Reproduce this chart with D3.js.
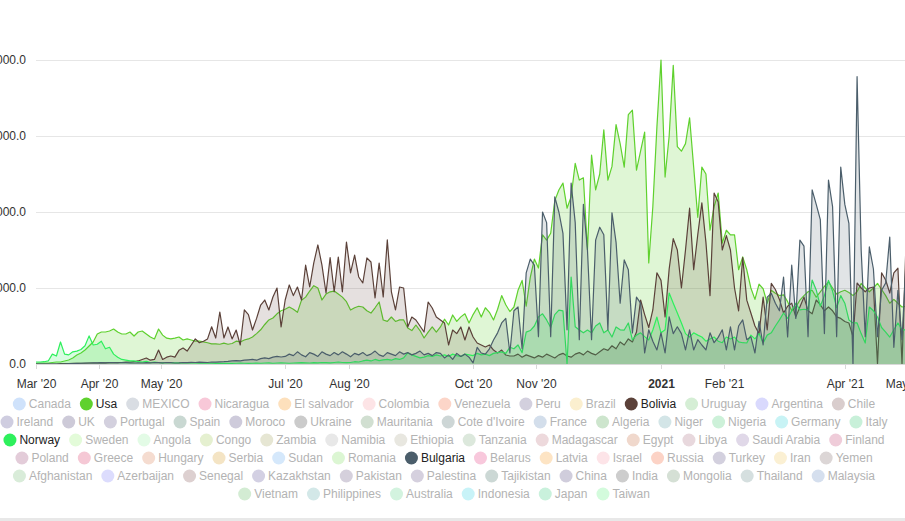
<!DOCTYPE html>
<html><head><meta charset="utf-8">
<script src="https://cdn.jsdelivr.net/npm/d3@7"></script>
<style>
html,body{margin:0;padding:0;background:#fff;overflow:hidden;}
svg{display:block;font-family:"Liberation Sans",Arial,sans-serif;}
</style></head><body>
<svg id="chart" width="905" height="521"></svg>
<script>
// ---------- data ----------
const startDate = "2020-03-01";
const stepDays = 2;

const usa = [
10,13,13,13,20,26,26,39,53,79,
118,145,184,237,290,395,421,421,434,460,
420,395,395,421,368,421,434,395,355,330,
460,380,340,330,340,355,316,330,316,300,
300,290,280,265,265,260,275,260,270,300,
290,316,330,355,400,450,520,580,605,660,
700,720,750,720,680,840,880,960,1030,1000,
842,920,950,960,920,880,820,710,740,760,
750,700,670,740,816,579,560,618,560,580,
580,474,440,513,440,342,420,487,420,487,
590,513,645,560,620,660,540,650,740,618,
740,680,580,720,900,780,690,750,970,1100,
760,1140,1380,1263,1700,1630,1720,2150,2290,2380,
2050,2200,2640,2420,2450,1500,2750,2290,2500,3080,
2420,2600,3150,2900,2590,3280,3340,2550,2800,3050,
1330,2070,3120,4000,2460,3000,3930,2860,2800,2900,
3240,2590,1930,2590,2500,1760,2070,2250,1590,1760,
1700,1700,1240,1410,1240,1000,850,1050,990,800,
970,930,900,910,820,700,750,840,900,950,
970,880,950,1020,1080,1000,920,950,970,940,
900,950,1060,1000,950,1000,1060,980,900,800,
850,800,750,760];

const bolivia = [
0,0,0,0,0,0,5,5,5,8,
8,10,10,13,13,13,15,15,18,18,
20,20,26,26,30,40,60,79,50,60,
184,60,90,105,90,180,210,170,250,330,
280,300,330,490,342,684,342,487,330,447,
250,711,650,447,600,776,842,711,882,1000,
487,842,1040,900,1013,842,1300,1013,1330,1566,
1300,934,1400,950,1408,950,1605,1200,1434,1145,
1066,1395,1342,869,1329,882,1632,950,711,1013,
1000,487,618,579,500,421,816,737,618,579,
540,250,447,400,487,316,487,355,276,250,
224,250,184,145,184,118,105,105,130,90,
120,100,80,110,90,130,105,80,120,140,
105,90,130,150,120,170,140,120,160,200,
180,240,200,290,250,330,290,420,842,650,
480,711,1200,1100,620,1250,1650,1500,1000,1500,
2050,1240,1700,2120,1600,900,2250,2130,1500,1690,
1500,1000,700,1400,840,671,500,400,880,450,
1060,980,850,671,760,800,620,750,880,700,
660,842,780,700,750,700,620,600,560,540,
360,1066,1000,950,1000,1013,0,1200,1105,934,
1200,1260,0,1630];

const norway = [
26,26,30,40,130,105,290,130,120,160,
170,190,240,370,250,260,300,200,220,130,
90,60,50,40,40,30,25,35,20,25,
20,15,20,18,15,15,13,15,13,13,
10,10,13,10,8,10,8,10,8,10,
13,10,8,10,13,10,13,15,10,13,
15,13,10,13,15,18,15,13,18,15,
20,18,15,20,26,20,18,20,30,26,
40,50,40,60,45,55,60,50,70,60,
80,145,120,100,80,90,110,100,120,105,
120,100,130,110,100,130,120,110,140,120,
130,110,140,150,160,140,220,200,250,150,
420,440,500,620,660,580,480,650,710,700,
0,1145,490,447,410,447,410,500,540,410,
447,355,487,450,447,540,316,380,410,360,
316,447,618,410,450,934,800,671,540,400,
355,410,380,355,300,330,355,300,280,355,
330,355,290,280,276,380,330,400,276,380,
410,500,580,671,600,700,800,711,720,711,
1105,974,760,900,1100,960,740,900,800,580,
540,540,400,276,750,700,618,480,420,355,
450,540,450,450];

const bulgaria = [
0,0,0,0,0,0,0,0,5,5,
8,10,13,13,15,15,18,15,20,18,
15,20,18,15,13,15,13,18,15,20,
18,15,20,18,13,15,20,18,22,20,
25,22,20,26,24,28,30,34,40,45,
40,50,55,60,50,70,80,70,90,100,
92,100,130,110,160,120,95,150,130,100,
160,130,110,150,120,160,130,95,140,120,
150,110,130,170,120,100,150,130,110,160,
130,150,120,140,170,120,140,110,150,140,
80,120,60,140,100,130,90,15,220,145,
130,200,316,410,540,600,145,700,750,200,
1200,1380,1300,360,2000,1860,360,2200,2000,1720,
450,2380,1860,320,2100,1500,320,1630,1800,1700,
450,1990,1600,800,1370,1240,410,880,800,145,
450,300,185,410,145,620,400,490,400,185,
450,185,320,250,185,410,280,350,450,185,
490,185,500,580,320,360,145,560,250,880,
930,800,700,1145,355,1300,600,1630,1550,360,
2290,2100,1900,400,2420,2070,360,2590,2100,1850,
0,3780,1500,360,1540,1250,360,970,1066,1670,
220,970,320,1370];

const yTicks = [0, 1000, 2000, 3000, 4000];
const xTickDates = ["2020-03-01","2020-04-01","2020-05-01","2020-07-01","2020-08-01","2020-10-01","2020-11-01","2021-01-01","2021-02-01","2021-04-01","2021-05-01"];
const xTickLabels = ["Mar '20","Apr '20","May '20","Jul '20","Aug '20","Oct '20","Nov '20","2021","Feb '21","Apr '21","May '21"];

const legendNames = ["Canada","Usa","MEXICO","Nicaragua","El salvador","Colombia","Venezuela","Peru","Brazil","Bolivia","Uruguay","Argentina","Chile",
"Ireland","UK","Portugal","Spain","Moroco","Ukraine","Mauritania","Cote d'Ivoire","France","Algeria","Niger","Nigeria","Germany","Italy",
"Norway","Sweden","Angola","Congo","Zambia","Namibia","Ethiopia","Tanzania","Madagascar","Egypt","Libya","Saudi Arabia","Finland",
"Poland","Greece","Hungary","Serbia","Sudan","Romania","Bulgaria","Belarus","Latvia","Israel","Russia","Turkey","Iran","Yemen",
"Afghanistan","Azerbaijan","Senegal","Kazakhstan","Pakistan","Palestina","Tajikistan","China","India","Mongolia","Thailand","Malaysia",
"Vietnam","Philippines","Australia","Indonesia","Japan","Taiwan"];
const legendColors = ["#cfe2fb","#5fd12e","#d9dde3","#f8c8d8","#fde0bc","#fde4e6","#fcd5c8","#d3d0de","#fbefcf","#5b4139","#d5eed5","#d9d9fd","#d9cdcd",
"#cfcde0","#cdcad8","#d3d0de","#c9d8d2","#cecbdb","#cbcbcb","#d1dfd1","#cdd6d6","#d3deeb","#cde5cd","#d3e5e7","#cdf1d9","#c8f3f5","#c8f0d9",
"#2ef05c","#e3fbd9","#e3fbe6","#e5f0d0","#e6e6d3","#e8e8e8","#e8e7e0","#dce8dc","#edd9dc","#f0d8cc","#e8d8dd","#e0d8e8","#efccd9",
"#e3ccd9","#f5c8d5","#f5dcd0","#f4e4c4","#d5e8fb","#dcf6d3","#4b5e6b","#f8c8dc","#fde4c4","#fde4e8","#fcd3c6","#d3d0de","#fbf0d3","#dcd6d6",
"#d9ecd9","#dcdcfd","#ddd0d0","#d3d0e3","#d5d0dc","#d5d0de","#ccd8d5","#d0cddc","#cdcdcd","#d5e0d5","#d5dfdf","#d5dfee",
"#d3ecd3","#d3e8e8","#d3f3df","#c8f3f8","#c9f1dc","#d3fbdc"];
const legendRowSizes = [13, 14, 13, 14, 12, 6];

const seriesList = [
  {name:"Usa", color:"#5fd12e", fillOpacity:0.2, values:usa},
  {name:"Bolivia", color:"#5b4139", fillOpacity:0.16, values:bolivia},
  {name:"Norway", color:"#2ef05c", fillOpacity:0.18, values:norway},
  {name:"Bulgaria", color:"#4b5e6b", fillOpacity:0.17, values:bulgaria}
];

// ---------- chart ----------
const svg = d3.select("#chart");
const W = 905, H = 521;
const parse = d3.timeParse("%Y-%m-%d");
const t0 = parse(startDate);

const x = d3.scaleTime()
  .domain([parse("2020-03-01"), parse("2021-01-01")])
  .range([36, 661]);
const y = d3.scaleLinear().domain([0, 4000]).range([364, 60]);

// grid
svg.append("g").selectAll("line").data(yTicks.filter(d => d > 0)).join("line")
  .attr("x1", 36).attr("x2", W + 10)
  .attr("y1", d => y(d) + 0.5).attr("y2", d => y(d) + 0.5)
  .attr("stroke", "#e6e6e6").attr("stroke-width", 1);

// y labels (left part falls outside the frame, as in the reference)
svg.append("g").selectAll("text").data(yTicks).join("text")
  .attr("x", 26).attr("y", d => y(d))
  .attr("text-anchor", "end").attr("dominant-baseline", "central")
  .attr("font-size", 12).attr("fill", "#333")
  .text(d => d3.format(".1f")(d));

// series
const plot = svg.append("g");
seriesList.forEach(s => {
  const pts = s.values.map((v, i) => ({d: d3.timeDay.offset(t0, i * stepDays), v}));
  const area = d3.area().x(p => x(p.d)).y0(y(0)).y1(p => y(p.v));
  const line = d3.line().x(p => x(p.d)).y(p => y(p.v));
  plot.append("path").datum(pts).attr("d", area)
    .attr("fill", s.color).attr("fill-opacity", s.fillOpacity);
  plot.append("path").datum(pts).attr("d", line)
    .attr("fill", "none").attr("stroke", s.color).attr("stroke-width", 1.2)
    .attr("stroke-linejoin", "round");
});

// x axis
svg.append("line").attr("x1", 36).attr("x2", W + 10)
  .attr("y1", 364.5).attr("y2", 364.5).attr("stroke", "#d8d8d8");
const xg = svg.append("g");
xTickDates.forEach((ds, i) => {
  const px = Math.round(x(parse(ds))) + 0.5;
  xg.append("line").attr("x1", px).attr("x2", px).attr("y1", 364).attr("y2", 369)
    .attr("stroke", "#d8d8d8");
  xg.append("text").attr("x", px).attr("y", 384)
    .attr("text-anchor", "middle").attr("dominant-baseline", "central")
    .attr("font-size", 12).attr("fill", "#333")
    .attr("font-weight", xTickLabels[i] === "2021" ? "bold" : "normal")
    .text(xTickLabels[i]);
});

// legend
const activeNames = seriesList.map(s => s.name);
const tmp = svg.append("text").attr("font-size", 12);
const items = legendNames.map((n, i) => {
  tmp.text(n);
  const tw = tmp.node().getComputedTextLength();
  return {name: n, color: legendColors[i], w: 16 + tw};
});
tmp.remove();
const gap = 9, centerX = 444, row0 = 404, rowH = 18;
const lg = svg.append("g");
let k = 0;
legendRowSizes.forEach((n, ri) => {
  const rowItems = items.slice(k, k + n); k += n;
  const rw = d3.sum(rowItems, d => d.w) + gap * (rowItems.length - 1);
  let lx = centerX - rw / 2;
  const cy = row0 + ri * rowH;
  rowItems.forEach(it => {
    const active = activeNames.includes(it.name);
    lg.append("circle").attr("cx", lx + 6.5).attr("cy", cy).attr("r", 6.5).attr("fill", it.color);
    lg.append("text").attr("x", lx + 16).attr("y", cy)
      .attr("dominant-baseline", "central").attr("font-size", 12)
      .attr("fill", active ? "#222" : "#b3b3b3").text(it.name);
    lx += it.w + gap;
  });
});

// bottom border
svg.append("rect").attr("x", 0).attr("y", 518).attr("width", W).attr("height", 3).attr("fill", "#e8e8e8");
</script>
</body></html>
